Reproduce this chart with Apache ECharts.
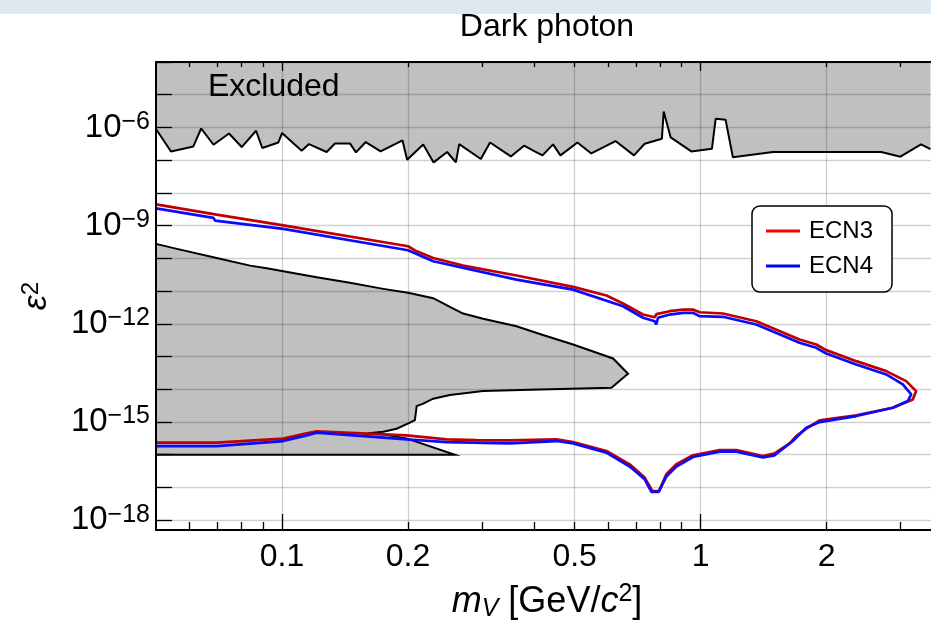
<!DOCTYPE html>
<html>
<head>
<meta charset="utf-8">
<script src="https://cdn.jsdelivr.net/npm/echarts@6/dist/echarts.min.js"></script>
<style>
html,body{margin:0;padding:0;background:#fff;}
#chart{width:931px;height:627px;}
</style>
</head>
<body>
<div id="chart"></div>
<script>
// ---------------- data ----------------
// Upper excluded region boundary (filled above)
const excludedTopX = [0.05, 0.0543, 0.0614, 0.0641, 0.0686, 0.0747, 0.0801, 0.0867, 0.0897, 0.098, 0.1, 0.1114, 0.116, 0.1278, 0.1338, 0.1453, 0.1502, 0.1585, 0.172, 0.194, 0.199, 0.2174, 0.2302, 0.248, 0.2602, 0.265, 0.2985, 0.314, 0.352, 0.3785, 0.4014, 0.419, 0.444, 0.4624, 0.5078, 0.548, 0.626, 0.693, 0.735, 0.808, 0.816, 0.848, 0.95, 1.064, 1.086, 1.147, 1.194, 1.488, 2.70, 3.0, 3.36, 3.54];
const excludedTopY = [9e-7, 1.85e-7, 2.63e-7, 9.3e-7, 2.96e-7, 6.56e-7, 2.52e-7, 7.94e-7, 2.35e-7, 3.48e-7, 6.75e-7, 1.95e-7, 3.11e-7, 1.78e-7, 3.25e-7, 3.25e-7, 1.73e-7, 3.58e-7, 1.85e-7, 4.01e-7, 1.03e-7, 3.03e-7, 8.55e-8, 1.78e-7, 8.55e-8, 3.11e-7, 1.09e-7, 3.48e-7, 1.30e-7, 2.77e-7, 1.85e-7, 1.40e-7, 3.03e-7, 1.40e-7, 3.48e-7, 1.61e-7, 3.85e-7, 1.40e-7, 3.18e-7, 4.52e-7, 3.08e-6, 4.96e-7, 1.85e-7, 2.24e-7, 1.84e-6, 1.72e-6, 1.22e-7, 1.78e-7, 1.78e-7, 1.28e-7, 3.03e-7, 2.19e-7];

// Lower-left excluded region outline (closed polygon)
const excludedLowX = [0.05, 0.0561, 0.0698, 0.0839, 0.0919, 0.1007, 0.121, 0.1453, 0.1745, 0.2, 0.2297, 0.2518, 0.2708, 0.3023, 0.3632, 0.4129, 0.4957, 0.6176, 0.6708, 0.6122, 0.4129, 0.3023, 0.2518, 0.2297, 0.2174, 0.2097, 0.2077, 0.2021, 0.1878, 0.1745, 0.1652, 0.1984, 0.2588, 0.05];
const excludedLowY = [2.77e-10, 1.95e-10, 1.03e-10, 6.0e-11, 4.98e-11, 4.03e-11, 2.65e-11, 1.79e-11, 1.17e-11, 8.85e-12, 6.05e-12, 3.31e-12, 2.06e-12, 1.42e-12, 8.45e-13, 4.89e-13, 2.34e-13, 8.75e-14, 2.99e-14, 1.12e-14, 9.9e-15, 8.8e-15, 6.64e-15, 5.15e-15, 3.63e-15, 3.06e-15, 1.15e-15, 9.55e-16, 6.25e-16, 5.07e-16, 4.72e-16, 3.16e-16, 1.0e-16, 1.0e-16];

// ECN3 sensitivity contour (upper branch -> tip -> lower branch)
const ecn3X = [0.05, 0.0698, 0.1007, 0.2, 0.2097, 0.2297, 0.2708, 0.3632, 0.4957, 0.5955, 0.6525, 0.7284, 0.7768, 0.784, 0.8433, 0.9075, 0.9585, 0.9945, 1.130, 1.358, 1.722, 1.889, 1.995, 2.353, 2.775, 3.097, 3.272, 3.212, 2.877, 2.353, 1.923, 1.788, 1.692, 1.631, 1.502, 1.408, 1.217, 1.110, 0.9585, 0.875, 0.828, 0.795, 0.7667, 0.735, 0.6768, 0.5955, 0.4957, 0.4525, 0.35, 0.2915, 0.2472, 0.1984, 0.121, 0.1145, 0.1007, 0.0698, 0.05];
const ecn3Y = [4.47e-9, 2.17e-9, 1.02e-9, 2.34e-10, 1.64e-10, 1.03e-10, 6.03e-11, 2.99e-11, 1.35e-11, 7.32e-12, 4.17e-12, 1.92e-12, 1.59e-12, 1.97e-12, 2.43e-12, 2.73e-12, 2.73e-12, 2.26e-12, 2.07e-12, 1.2e-12, 3.33e-13, 2.34e-13, 1.57e-13, 7.23e-14, 3.58e-14, 1.77e-14, 8.8e-15, 4.9e-15, 2.73e-15, 1.59e-15, 1.12e-15, 6.25e-16, 3.72e-16, 2.23e-16, 1.1e-16, 9.1e-17, 1.39e-16, 1.39e-16, 9.6e-17, 5.1e-17, 2.52e-17, 7.8e-18, 7.8e-18, 2.0e-17, 5.1e-17, 1.3e-16, 2.44e-16, 2.95e-16, 2.75e-16, 2.81e-16, 2.95e-16, 3.91e-16, 5.18e-16, 4.5e-16, 3.1e-16, 2.34e-16, 2.34e-16];

// ECN4 sensitivity contour
const ecn4X = [0.05, 0.0686, 0.0692, 0.1007, 0.2, 0.2297, 0.3632, 0.4957, 0.6525, 0.7284, 0.7768, 0.7826, 0.791, 0.8433, 0.9075, 0.9585, 0.9945, 1.130, 1.358, 1.722, 1.889, 1.995, 2.353, 2.775, 3.04, 3.184, 3.124, 2.877, 2.353, 1.923, 1.788, 1.692, 1.661, 1.502, 1.408, 1.217, 1.110, 0.9585, 0.875, 0.828, 0.794, 0.7626, 0.735, 0.6768, 0.5955, 0.4957, 0.4525, 0.35, 0.2472, 0.1984, 0.121, 0.1145, 0.1007, 0.0698, 0.05];
const ecn4Y = [3.37e-9, 1.72e-9, 1.42e-9, 7.94e-10, 1.77e-10, 8.15e-11, 2.25e-11, 1.11e-11, 3.45e-12, 1.53e-12, 1.2e-12, 9.5e-13, 1.53e-12, 1.92e-12, 2.17e-12, 2.17e-12, 1.71e-12, 1.64e-12, 9.5e-13, 2.64e-13, 1.85e-13, 1.24e-13, 5.74e-14, 2.84e-14, 1.41e-14, 6.97e-15, 4.35e-15, 2.73e-15, 1.52e-15, 9.96e-16, 6.71e-16, 3.33e-16, 2.62e-16, 9.6e-17, 8.2e-17, 1.24e-16, 1.24e-16, 8.5e-17, 4.34e-17, 2.15e-17, 7.3e-18, 7.3e-18, 1.77e-17, 4.34e-17, 1.16e-16, 2.23e-16, 2.62e-16, 2.23e-16, 2.44e-16, 2.95e-16, 4.72e-16, 3.91e-16, 2.62e-16, 1.84e-16, 1.84e-16];

// Axis ticks / labels
const xTickValues = [0.1, 0.2, 0.5, 1, 2];
const xTickLabels = ['0.1', '0.2', '0.5', '1', '2'];
const xMajorTicks = [0.1, 1];
const xMinorTicks = [0.06, 0.07, 0.08, 0.09, 0.2, 0.3, 0.4, 0.5, 0.6, 0.7, 0.8, 0.9, 2, 3];
const yTickExponents = [-18, -17, -16, -15, -14, -13, -12, -11, -10, -9, -8, -7, -6, -5, -4];
const yLabelExponents = [-18, -15, -12, -9, -6];

const seriesNames = ['ECN3', 'ECN4'];
const chartTitle = 'Dark photon';
const regionLabel = 'Excluded';

// ---------------- chart ----------------
const FONT = '"Liberation Sans", Arial, Helvetica, sans-serif';
const X_MIN = 0.05, X_MAX = 3.55;
const Y_MIN = Math.pow(10, -18.3), Y_MAX = 1e-4;
const GRID_COLOR = 'rgba(0,0,0,0.18)';

const pairs = (xs, ys) => xs.map((x, i) => [x, ys[i]]);
const yTickValues = yTickExponents.map(e => Math.pow(10, e));
const yLabelValues = yLabelExponents.map(e => Math.pow(10, e));

const baseX = { type: 'log', logBase: 10, min: X_MIN, max: X_MAX, gridIndex: 0 };
const baseY = { type: 'log', logBase: 10, min: Y_MIN, max: Y_MAX, gridIndex: 0 };
const noLine = { show: false };
const blackLine = { show: true, lineStyle: { color: '#000', width: 2 } };
const tickStyle = { color: '#000', width: 1.3 };

const chart = echarts.init(document.getElementById('chart'), null, { renderer: 'canvas' });

const option = {
  animation: false,
  backgroundColor: '#fff',
  textStyle: { fontFamily: FONT },
  grid: { left: 156, right: 0, top: 62, bottom: 96 },
  graphic: [
    { type: 'rect', left: 0, top: 0, z: 0, shape: { x: 0, y: 0, width: 931, height: 14 }, style: { fill: '#dde8f3' } },
    { type: 'text', x: 547, y: 27, z: 10, style: { text: chartTitle, fill: '#000', font: '32px ' + FONT, textAlign: 'center', textVerticalAlign: 'middle' } },
    { type: 'text', x: 208, y: 87, z: 10, style: { text: regionLabel, fill: '#000', font: '32px ' + FONT, textAlign: 'left', textVerticalAlign: 'middle' } }
  ],
  legend: {
    orient: 'vertical',
    left: 752, top: 206,
    padding: [13, 19, 14, 14],
    itemGap: 11,
    icon: 'rect',
    itemWidth: 34, itemHeight: 3,
    backgroundColor: '#fff',
    borderColor: '#000', borderWidth: 1.5, borderRadius: 8,
    textStyle: { fontSize: 24, color: '#000', fontFamily: FONT, padding: [0, 0, 0, 4] },
    data: [
      { name: seriesNames[0], icon: 'rect', itemStyle: { color: '#ff0000' } },
      { name: seriesNames[1], icon: 'rect', itemStyle: { color: '#0000ff' } }
    ]
  },
  xAxis: [
    Object.assign({}, baseX, {
      position: 'bottom', z: 6,
      axisLine: blackLine,
      axisTick: { show: true, inside: true, length: 16, customValues: xMajorTicks, lineStyle: tickStyle },
      axisLabel: {
        show: true, customValues: xTickValues, margin: 11,
        fontSize: 32, color: '#000', fontFamily: FONT,
        formatter: v => {
          let best = 0;
          xTickValues.forEach((t, i) => { if (Math.abs(Math.log10(t) - Math.log10(v)) < Math.abs(Math.log10(xTickValues[best]) - Math.log10(v))) best = i; });
          return xTickLabels[best];
        }
      },
      splitLine: noLine,
      name: '{i|m}{v|V}{n| [GeV/}{i|c}{p|2}{n|]}',
      nameLocation: 'middle', nameGap: 52,
      nameTextStyle: {
        padding: [0, 0, 0, 7],
        rich: {
          i: { fontSize: 36, fontStyle: 'italic', fontFamily: FONT, color: '#000', lineHeight: 40 },
          n: { fontSize: 36, fontFamily: FONT, color: '#000', lineHeight: 40 },
          v: { fontSize: 25, fontStyle: 'italic', fontFamily: FONT, color: '#000', verticalAlign: 'bottom', lineHeight: 22 },
          p: { fontSize: 25, fontFamily: FONT, color: '#000', verticalAlign: 'top', lineHeight: 22 }
        }
      }
    }),
    Object.assign({}, baseX, {
      position: 'bottom', z: 6, axisLine: noLine,
      axisTick: { show: true, inside: true, length: 8, customValues: xMinorTicks, lineStyle: tickStyle },
      axisLabel: { show: false }, splitLine: noLine
    }),
    Object.assign({}, baseX, {
      position: 'top', z: 6, axisLine: blackLine,
      axisTick: { show: true, inside: true, length: 9, customValues: xMajorTicks, lineStyle: tickStyle },
      axisLabel: { show: false }, splitLine: noLine
    }),
    Object.assign({}, baseX, {
      position: 'top', z: 6, axisLine: noLine,
      axisTick: { show: true, inside: true, length: 5, customValues: xMinorTicks, lineStyle: tickStyle },
      axisLabel: { show: false }, splitLine: noLine
    }),
    Object.assign({}, baseX, {
      position: 'bottom', z: 3, axisLine: noLine,
      axisTick: { show: false, customValues: xTickValues },
      axisLabel: { show: false },
      splitLine: { show: true, lineStyle: { color: GRID_COLOR, width: 1.3 } }
    })
  ],
  yAxis: [
    Object.assign({}, baseY, {
      position: 'left', z: 6,
      axisLine: blackLine,
      axisTick: { show: true, inside: true, length: 16, customValues: yTickValues, lineStyle: tickStyle },
      axisLabel: {
        show: true, customValues: yLabelValues, margin: 6,
        formatter: v => '{b|10}{s|\u2212' + Math.round(-Math.log10(v)) + '}',
        rich: {
          b: { fontSize: 33, fontFamily: FONT, color: '#000', lineHeight: 36 },
          s: { fontSize: 25, fontFamily: FONT, color: '#000', verticalAlign: 'top', lineHeight: 24 }
        }
      },
      splitLine: noLine,
      name: '{e|\u03b5}{p|2}',
      nameLocation: 'middle', nameRotate: 90, nameGap: 101,
      nameTextStyle: {
        rich: {
          e: { fontSize: 34, fontStyle: 'italic', fontFamily: FONT, color: '#000', lineHeight: 36 },
          p: { fontSize: 24, fontFamily: FONT, color: '#000', verticalAlign: 'top', lineHeight: 22 }
        }
      }
    }),
    Object.assign({}, baseY, {
      position: 'left', z: 3, axisLine: noLine,
      axisTick: { show: false, customValues: yTickValues },
      axisLabel: { show: false },
      splitLine: { show: true, lineStyle: { color: GRID_COLOR, width: 1.3 } }
    })
  ],
  series: [
    {
      type: 'line', name: 'excluded-top', data: pairs(excludedTopX, excludedTopY),
      symbol: 'none', silent: true, z: 2,
      lineStyle: { color: '#000', width: 2 },
      areaStyle: { color: '#c0c0c0', opacity: 1, origin: 'end' }
    },
    {
      type: 'custom', name: 'excluded-low', silent: true, z: 2,
      data: [[excludedLowX[0], excludedLowY[0]]],
      renderItem: (params, api) => ({
        type: 'polygon',
        shape: { points: excludedLowX.map((x, i) => api.coord([x, excludedLowY[i]])) },
        style: { fill: '#c0c0c0', stroke: '#000', lineWidth: 2 }
      })
    },
    {
      type: 'line', name: seriesNames[0], data: pairs(ecn3X, ecn3Y),
      symbol: 'none', z: 4,
      lineStyle: { color: '#c00000', width: 2.7 }, itemStyle: { color: '#ff0000' }
    },
    {
      type: 'line', name: seriesNames[1], data: pairs(ecn4X, ecn4Y),
      symbol: 'none', z: 4,
      lineStyle: { color: '#0a0aff', width: 2.7 }, itemStyle: { color: '#0000ff' }
    }
  ]
};
chart.setOption(option);
</script>
</body>
</html>
